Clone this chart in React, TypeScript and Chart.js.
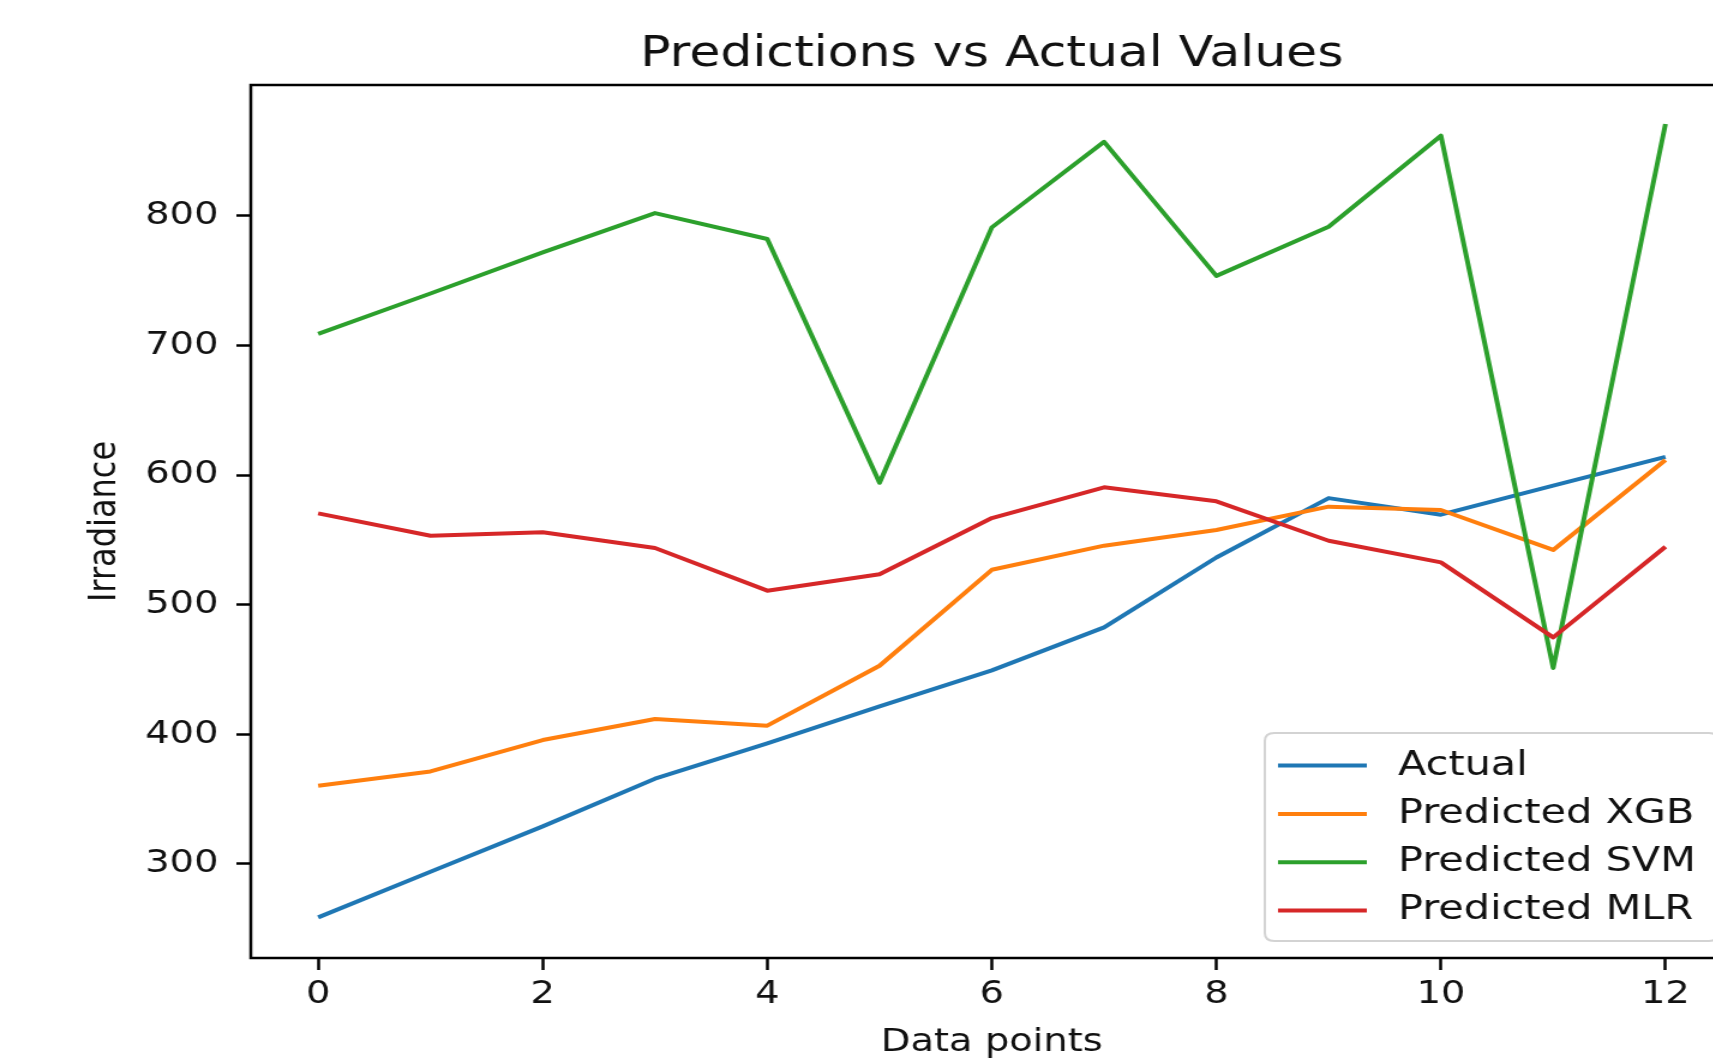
import React, { useEffect, useRef } from 'react';
import { Chart, registerables } from 'chart.js';

Chart.register(...registerables);

// ---- data ----
const xValues = [0, 1, 2, 3, 4, 5, 6, 7, 8, 9, 10, 11, 12];
const actual = [258.8, 294, 329, 365.8, 393, 421.5, 449.3, 482.5, 536.4, 582.2, 569.4, 591.8, 614];
const predictedXGB = [360.4, 371.4, 395.6, 411.8, 406.7, 452.9, 526.9, 545.5, 557.6, 575.6, 573, 542.2, 611.6];
const predictedSVM = [708.8, 740, 771.7, 802, 782, 594, 791, 857, 753.6, 791.5, 861.7, 451.2, 870.7];
const predictedMLR = [570.4, 553.2, 555.8, 543.7, 510.8, 523.4, 566.8, 590.5, 579.7, 549.3, 532.6, 474.8, 544.7];
const seriesLabels = ['Actual', 'Predicted XGB', 'Predicted SVM', 'Predicted MLR'];
const seriesColors = ['#1f77b4', '#ff7f0e', '#2ca02c', '#d62728'];
const xTickValues = [0, 2, 4, 6, 8, 10, 12];
const yTickValues = [300, 400, 500, 600, 700, 800];
const titleText = 'Predictions vs Actual Values';
const xTitle = 'Data points';
const yTitle = 'Irradiance';

const X_MIN = -0.6;
const X_MAX = 12.6;
const Y_MIN = 227.5;
const Y_MAX = 900.8;

// ---- layout / style ----
const STRETCH = 1.2;
const CANVAS_W = 1470;
const CANVAS_H = 1059;
const FONT = "'DejaVu Sans', 'Liberation Sans', sans-serif";
const TEXT = '#111';

const framePlugin = {
  id: 'mplFrame',
  afterDatasetsDraw(chart: any) {
    const { ctx, chartArea } = chart;
    ctx.save();
    ctx.strokeStyle = '#000';
    ctx.lineWidth = 2.5;
    ctx.strokeRect(chartArea.left, chartArea.top, chartArea.right - chartArea.left, chartArea.bottom - chartArea.top);
    ctx.restore();
  },
};

const legendPlugin = {
  id: 'mplLegend',
  afterDraw(chart: any) {
    const { ctx, chartArea } = chart;
    const r = chartArea.right - 12;
    const b = chartArea.bottom - 17;
    const l = r - 378;
    const t = b - 208;
    const rad = 8;
    ctx.save();
    ctx.beginPath();
    ctx.moveTo(l + rad, t);
    ctx.lineTo(r - rad, t);
    ctx.quadraticCurveTo(r, t, r, t + rad);
    ctx.lineTo(r, b - rad);
    ctx.quadraticCurveTo(r, b, r - rad, b);
    ctx.lineTo(l + rad, b);
    ctx.quadraticCurveTo(l, b, l, b - rad);
    ctx.lineTo(l, t + rad);
    ctx.quadraticCurveTo(l, t, l + rad, t);
    ctx.closePath();
    ctx.fillStyle = 'rgba(255,255,255,0.8)';
    ctx.fill();
    ctx.strokeStyle = '#d3d3d3';
    ctx.lineWidth = 2;
    ctx.stroke();

    const ds = chart.data.datasets;
    ctx.font = `34.5px ${FONT}`;
    ctx.textBaseline = 'middle';
    ctx.textAlign = 'left';
    for (let i = 0; i < ds.length; i++) {
      const y = b - 30.5 - (ds.length - 1 - i) * 48.3;
      ctx.beginPath();
      ctx.strokeStyle = ds[i].borderColor;
      ctx.lineWidth = 4;
      ctx.moveTo(l + 11, y);
      ctx.lineTo(l + 85, y);
      ctx.stroke();
      ctx.fillStyle = TEXT;
      ctx.fillText(ds[i].label, l + 111, y);
    }
    ctx.restore();
  },
};

export default function App() {
  const ref = useRef<HTMLCanvasElement | null>(null);

  useEffect(() => {
    if (!ref.current) return;
    const series = [actual, predictedXGB, predictedSVM, predictedMLR];
    const chart = new Chart(ref.current, {
      type: 'line',
      data: {
        datasets: series.map((vals, i) => ({
          label: seriesLabels[i],
          data: xValues.map((x, j) => ({ x, y: vals[j] })),
          borderColor: seriesColors[i],
          backgroundColor: seriesColors[i],
          borderWidth: 4,
          pointRadius: 0,
          tension: 0,
          fill: false,
          borderJoinStyle: 'round',
          order: series.length - 1 - i,
        })),
      },
      options: {
        animation: false,
        responsive: false,
        devicePixelRatio: 1,
        events: [],
        layout: { padding: { left: 0, right: 26, top: 0, bottom: 0 } },
        plugins: {
          legend: { display: false },
          tooltip: { enabled: false },
          title: {
            display: true,
            text: titleText,
            fullSize: false,
            color: TEXT,
            font: { family: FONT, size: 42, weight: 'normal' },
            padding: { top: 30, bottom: 4.6 },
          },
        },
        scales: {
          x: {
            type: 'linear',
            min: X_MIN,
            max: X_MAX,
            afterBuildTicks: (s: any) => {
              s.ticks = xTickValues.map((v) => ({ value: v }));
            },
            afterFit: (s: any) => {
              s.height = 101;
            },
            ticks: {
              color: TEXT,
              font: { family: FONT, size: 32 },
              padding: 5,
              maxRotation: 0,
              autoSkip: false,
              callback: (v: any) => String(v),
            },
            grid: {
              drawOnChartArea: false,
              drawTicks: true,
              tickLength: 12,
              tickWidth: 2.5,
              tickColor: '#000',
            },
            border: { display: false },
            title: {
              display: true,
              text: xTitle,
              color: TEXT,
              font: { family: FONT, size: 32, lineHeight: 1.0 },
              padding: { top: 0, bottom: 0 },
            },
          },
          y: {
            type: 'linear',
            min: Y_MIN,
            max: Y_MAX,
            afterBuildTicks: (s: any) => {
              s.ticks = yTickValues.map((v) => ({ value: v }));
            },
            afterFit: (s: any) => {
              s.width = 209;
            },
            ticks: {
              color: TEXT,
              font: { family: FONT, size: 32 },
              padding: 15,
              autoSkip: false,
              callback: (v: any) => String(v),
            },
            grid: {
              drawOnChartArea: false,
              drawTicks: true,
              tickLength: 12,
              tickWidth: 2.5,
              tickColor: '#000',
            },
            border: { display: false },
            title: {
              display: true,
              text: yTitle,
              color: TEXT,
              font: { family: FONT, size: 32 },
              padding: { top: 68, bottom: 0 },
            },
          },
        },
      },
      plugins: [framePlugin, legendPlugin],
    } as any);
    return () => chart.destroy();
  }, []);

  return (
    <div
      style={{
        position: 'fixed',
        left: 0,
        top: 0,
        width: 1713,
        height: 1059,
        overflow: 'hidden',
        background: '#fff',
      }}
    >
      <canvas
        ref={ref}
        width={CANVAS_W}
        height={CANVAS_H}
        style={{ display: 'block', transform: `scaleX(${STRETCH})`, transformOrigin: '0 0' }}
      />
    </div>
  );
}
